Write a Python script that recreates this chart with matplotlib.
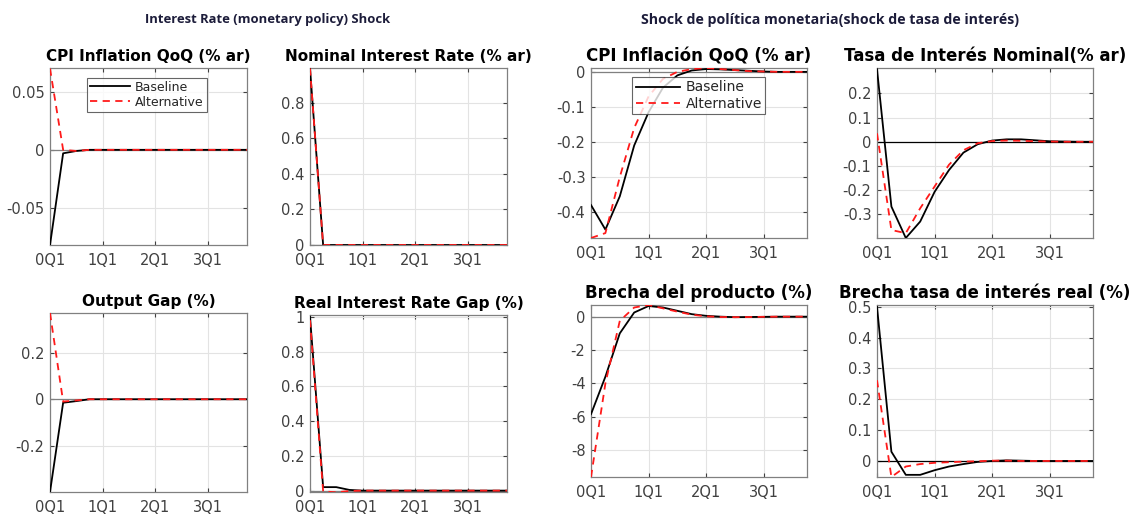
import numpy as np
import matplotlib
matplotlib.use("Agg")
import matplotlib.pyplot as plt

# quarters 0..15
q = np.arange(16)
xtick_pos = [0, 4, 8, 12]
xtick_lab = ['0Q1', '1Q1', '2Q1', '3Q1']

# --- left block: Interest Rate (monetary policy) Shock ---
cpi_base = [-0.082, -0.003, -0.001, 0, 0, 0, 0, 0, 0, 0, 0, 0, 0, 0, 0, 0]
cpi_alt = [0.070, 0.0, -0.001, 0, 0, 0, 0, 0, 0, 0, 0, 0, 0, 0, 0, 0]
nir_base = [0.995, 0, 0, 0, 0, 0, 0, 0, 0, 0, 0, 0, 0, 0, 0, 0]
nir_alt = [0.995, 0, 0, 0, 0, 0, 0, 0, 0, 0, 0, 0, 0, 0, 0, 0]
gap_base = [-0.398, -0.015, -0.008, 0, 0, 0, 0, 0, 0, 0, 0, 0, 0, 0, 0, 0]
gap_alt = [0.37, -0.01, -0.005, 0, 0, 0, 0, 0, 0, 0, 0, 0, 0, 0, 0, 0]
rir_base = [1.0, 0.02, 0.02, 0.004, 0, 0, 0, 0, 0, 0, 0, 0, 0, 0, 0, 0]
rir_alt = [0.98, -0.004, -0.01, -0.002, 0, 0, 0, 0, 0, 0, 0, 0, 0, 0, 0, 0]

# --- right block: Shock de politica monetaria ---
inf_base = [-0.38, -0.45, -0.355, -0.21, -0.115, -0.045, -0.01, 0.004, 0.008, 0.007,
            0.005, 0.003, 0.001, 0, 0, 0]
inf_alt = [-0.474, -0.46, -0.30, -0.16, -0.07, -0.02, 0.0, 0.008, 0.011, 0.008,
           0.005, 0.002, 0.001, 0, 0, 0]
tin_base = [0.30, -0.268, -0.398, -0.33, -0.207, -0.117, -0.045, -0.01, 0.005, 0.01,
            0.01, 0.006, 0.002, 0.001, 0, 0]
tin_alt = [0.035, -0.365, -0.378, -0.275, -0.185, -0.095, -0.035, -0.006, 0.003, 0.005,
           0.004, 0.002, 0.001, 0, 0, 0]
bp_base = [-5.85, -3.6, -1.0, 0.25, 0.64, 0.55, 0.35, 0.15, 0.05, 0.0,
           -0.03, -0.02, -0.01, 0, 0, 0]
bp_alt = [-9.62, -4.0, -0.25, 0.55, 0.70, 0.50, 0.30, 0.12, 0.02, -0.02,
          -0.03, -0.02, -0.01, 0, 0, 0]
btr_base = [0.50, 0.03, -0.045, -0.045, -0.03, -0.018, -0.01, -0.003, 0.0, 0.002,
            0.001, 0, 0, 0, 0, 0]
btr_alt = [0.262, -0.052, -0.018, -0.01, -0.006, -0.004, -0.002, -0.001, 0.001, 0.001,
           0, 0, 0, 0, 0, 0]

W, H = 1136, 516
fig = plt.figure(figsize=(W / 100, H / 100), dpi=100)


def make_ax(l, t, r, b):
    return fig.add_axes([l / W, 1 - b / H, (r - l) / W, (b - t) / H])


def panel(box, title, base, alt, ylim, yticks, yticklabels, zero_col='0.5',
          legend=None, tsize=11, lsize=9):
    ax = make_ax(*box)
    ax.axhline(0, color=zero_col, lw=0.9, zorder=1)
    ax.plot(q, base, color='black', lw=1.3, zorder=3, label='Baseline')
    ax.plot(q, alt, color='#ff1a1a', lw=1.3, ls=(0, (4, 3)), zorder=4, label='Alternative')
    ax.set_xlim(0, 15)
    ax.set_ylim(*ylim)
    ax.set_xticks(xtick_pos)
    ax.set_xticklabels(xtick_lab)
    ax.set_yticks(yticks)
    ax.set_yticklabels(yticklabels)
    ax.grid(True, color='#e3e3e3', lw=0.8)
    ax.set_axisbelow(True)
    ax.tick_params(colors='#404040', labelsize=10.5, length=3, direction='in',
                   top=True, right=True)
    ax.tick_params(axis='x', pad=6)
    ax.tick_params(axis='y', pad=4)
    for s in ax.spines.values():
        s.set_color('#808080')
        s.set_linewidth(0.9)
    ax.set_title(title, fontsize=tsize, fontweight='bold', pad=5)
    if legend is not None:
        leg = ax.legend(loc='upper left', bbox_to_anchor=legend, fontsize=lsize,
                        frameon=True, fancybox=False, handlelength=3.2,
                        borderpad=0.25, labelspacing=0.15, handletextpad=0.4,
                        borderaxespad=0)
        leg.get_frame().set_edgecolor('#404040')
        leg.get_frame().set_linewidth(0.8)
        for t in leg.get_texts():
            t.set_color('#262626')
    return ax


panel((50, 68, 247, 245), 'CPI Inflation QoQ (% ar)', cpi_base, cpi_alt,
      (-0.082, 0.0705), [-0.05, 0, 0.05], ['-0.05', '0', '0.05'], legend=(0.188, 0.945))
panel((310, 68, 507, 245), 'Nominal Interest Rate (% ar)', nir_base, nir_alt,
      (0, 0.997), [0, 0.2, 0.4, 0.6, 0.8], ['0', '0.2', '0.4', '0.6', '0.8'])
panel((50, 313, 247, 492), 'Output Gap (%)', gap_base, gap_alt,
      (-0.398, 0.37), [-0.2, 0, 0.2], ['-0.2', '0', '0.2'])
panel((310, 315, 507, 492), 'Real Interest Rate Gap (%)', rir_base, rir_alt,
      (-0.008, 1.01), [0, 0.2, 0.4, 0.6, 0.8, 1], ['0', '0.2', '0.4', '0.6', '0.8', '1'])

panel((591, 68, 807, 238), 'CPI Inflación QoQ (% ar)', inf_base, inf_alt,
      (-0.474, 0.011), [-0.4, -0.3, -0.2, -0.1, 0], ['-0.4', '-0.3', '-0.2', '-0.1', '0'],
      legend=(0.19, 0.947), tsize=12, lsize=10)
panel((877, 68, 1093, 238), 'Tasa de Interés Nominal(% ar)', tin_base, tin_alt,
      (-0.398, 0.305), [-0.3, -0.2, -0.1, 0, 0.1, 0.2],
      ['-0.3', '-0.2', '-0.1', '0', '0.1', '0.2'], zero_col='black', tsize=12)
panel((591, 305, 807, 477), 'Brecha del producto (%)', bp_base, bp_alt,
      (-9.62, 0.7), [-8, -6, -4, -2, 0], ['-8', '-6', '-4', '-2', '0'], tsize=12)
panel((877, 305, 1093, 477), 'Brecha tasa de interés real (%)', btr_base, btr_alt,
      (-0.052, 0.506), [0, 0.1, 0.2, 0.3, 0.4, 0.5],
      ['0', '0.1', '0.2', '0.3', '0.4', '0.5'], zero_col='black', tsize=12)

fig.text(268 / W, 1 - 20 / H, 'Interest Rate (monetary policy) Shock', ha='center', va='center',
         fontsize=9.4, fontweight='bold', color='#1c1c3a', family='Open Sans')
fig.text(830 / W, 1 - 20 / H, 'Shock de política monetaria(shock de tasa de interés)',
         ha='center', va='center', fontsize=10.2, fontweight='bold', color='#1c1c3a',
         family='Open Sans')

fig.savefig('out.png', dpi=100, facecolor='white')
